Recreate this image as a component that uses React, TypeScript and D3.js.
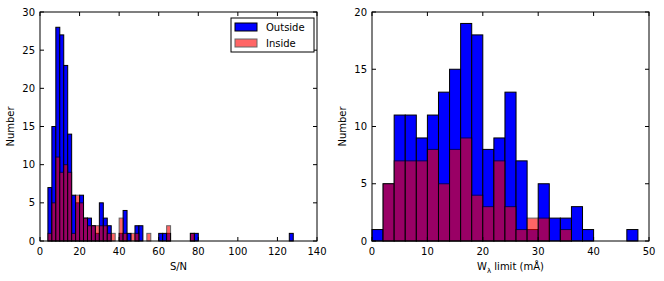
import React, { useEffect, useRef } from 'react';
import * as d3 from 'd3';

// S/N histogram: bins of width 2 starting at 4
const snBinStart = 4;
const snBinWidth = 2;
const snOutside = [
  7, 15, 28, 27, 23, 14, 6, 5, 6, 3, 3, 2, 1, 5, 3, 2, 0, 0, 1, 4, 1, 0, 2, 2, 0, 0, 0, 0, 1, 1, 1,
  0, 0, 0, 0, 0, 1, 1, 0, 0, 0, 0, 0, 0, 0, 0, 0, 0, 0, 0, 0, 0, 0, 0, 0, 0, 0, 0, 0, 0, 0, 1,
];
const snInside = [
  1, 5, 11, 9, 10, 9, 1, 6, 5, 3, 2, 2, 2, 2, 2, 1, 1, 0, 3, 1, 0, 1, 1, 0, 0, 1, 0, 0, 0, 0, 2,
  0, 0, 0, 0, 0, 1, 0, 0, 0, 0, 0, 0, 0, 0, 0, 0, 0, 0, 0, 0, 0, 0, 0, 0, 0, 0, 0, 0, 0, 0, 0,
];

// W limit histogram: bins of width 2 starting at 0
const wlBinStart = 0;
const wlBinWidth = 2;
const wlOutside = [1, 5, 11, 11, 9, 11, 13, 15, 19, 18, 8, 9, 13, 7, 1, 5, 2, 2, 3, 1, 0, 0, 0, 1];
const wlInside = [0, 5, 7, 7, 7, 8, 5, 8, 9, 4, 3, 7, 3, 1, 2, 2, 0, 1, 0, 0, 0, 0, 0, 0];

const snTicks = [0, 20, 40, 60, 80, 100, 120, 140];
const snYTicks = [0, 5, 10, 15, 20, 25, 30];
const wlTicks = [0, 10, 20, 30, 40, 50];
const wlYTicks = [0, 5, 10, 15, 20];

const legendItems = [
  { label: 'Outside', color: '#0000ff', opacity: 1 },
  { label: 'Inside', color: '#ff0000', opacity: 0.6 },
];

const FONT = 'DejaVu Sans, sans-serif';

const App = () => {
  const ref = useRef<SVGSVGElement>(null);

  useEffect(() => {
    const svg = d3.select(ref.current);
    svg.selectAll('*').remove();

    const top = 12;
    const bottom = 241;

    const drawPanel = (opts: {
      left: number;
      right: number;
      xMax: number;
      yMax: number;
      xTicks: number[];
      yTicks: number[];
      binStart: number;
      binWidth: number;
      outside: number[];
      inside: number[];
    }) => {
      const x = d3.scaleLinear().domain([0, opts.xMax]).range([opts.left, opts.right]);
      const y = d3.scaleLinear().domain([0, opts.yMax]).range([bottom, top]);
      const g = svg.append('g');

      const drawBars = (counts: number[], color: string, opacity: number) => {
        const data = counts
          .map((c, i) => ({ x0: opts.binStart + i * opts.binWidth, c }))
          .filter(d => d.c > 0);
        g.append('g')
          .attr('opacity', opacity)
          .selectAll('rect')
          .data(data)
          .enter()
          .append('rect')
          .attr('x', d => x(d.x0))
          .attr('y', d => y(d.c))
          .attr('width', d => x(d.x0 + opts.binWidth) - x(d.x0))
          .attr('height', d => y(0) - y(d.c))
          .attr('fill', color)
          .attr('stroke', '#000')
          .attr('stroke-width', 1);
      };

      drawBars(opts.outside, '#0000ff', 1);
      drawBars(opts.inside, '#ff0000', 0.6);

      // frame
      g.append('rect')
        .attr('x', opts.left)
        .attr('y', top)
        .attr('width', opts.right - opts.left)
        .attr('height', bottom - top)
        .attr('fill', 'none')
        .attr('stroke', '#000')
        .attr('stroke-width', 1);

      // ticks (inside, all four sides)
      opts.xTicks.forEach(t => {
        g.append('line').attr('x1', x(t)).attr('x2', x(t)).attr('y1', bottom).attr('y2', bottom - 4).attr('stroke', '#000');
        g.append('line').attr('x1', x(t)).attr('x2', x(t)).attr('y1', top).attr('y2', top + 4).attr('stroke', '#000');
        g.append('text')
          .attr('x', x(t))
          .attr('y', bottom + 14)
          .attr('text-anchor', 'middle')
          .style('font-family', FONT)
          .style('font-size', '10px')
          .text(t);
      });
      opts.yTicks.forEach(t => {
        g.append('line').attr('x1', opts.left).attr('x2', opts.left + 4).attr('y1', y(t)).attr('y2', y(t)).attr('stroke', '#000');
        g.append('line').attr('x1', opts.right).attr('x2', opts.right - 4).attr('y1', y(t)).attr('y2', y(t)).attr('stroke', '#000');
        g.append('text')
          .attr('x', opts.left - 5)
          .attr('y', y(t) + 3.5)
          .attr('text-anchor', 'end')
          .style('font-family', FONT)
          .style('font-size', '10px')
          .text(t);
      });

      // y label
      g.append('text')
        .attr('transform', `translate(${opts.left - 26},${(top + bottom) / 2}) rotate(-90)`)
        .attr('text-anchor', 'middle')
        .style('font-family', FONT)
        .style('font-size', '10px')
        .text('Number');

      return { x, y, g };
    };

    const left = drawPanel({
      left: 40, right: 317, xMax: 140, yMax: 30,
      xTicks: snTicks, yTicks: snYTicks,
      binStart: snBinStart, binWidth: snBinWidth,
      outside: snOutside, inside: snInside,
    });
    left.g.append('text')
      .attr('x', (40 + 317) / 2)
      .attr('y', 270)
      .attr('text-anchor', 'middle')
      .style('font-family', FONT)
      .style('font-size', '10px')
      .text('S/N');

    const right = drawPanel({
      left: 372, right: 649, xMax: 50, yMax: 20,
      xTicks: wlTicks, yTicks: wlYTicks,
      binStart: wlBinStart, binWidth: wlBinWidth,
      outside: wlOutside, inside: wlInside,
    });
    const xl = right.g.append('text')
      .attr('x', (372 + 649) / 2)
      .attr('y', 270)
      .attr('text-anchor', 'middle')
      .style('font-family', FONT)
      .style('font-size', '10px');
    xl.append('tspan').text('W');
    xl.append('tspan').attr('dy', 3).style('font-size', '7px').text('λ');
    xl.append('tspan').attr('dy', -3).text(' limit (mÅ)');

    // Legend
    const lg = svg.append('g').attr('transform', 'translate(231,18)');
    lg.append('rect')
      .attr('width', 83)
      .attr('height', 34)
      .attr('fill', '#fff')
      .attr('stroke', '#000');
    legendItems.forEach((d, i) => {
      lg.append('rect')
        .attr('x', 4)
        .attr('y', 5 + i * 16)
        .attr('width', 22)
        .attr('height', 8)
        .attr('fill', d.color)
        .attr('stroke', '#000')
        .attr('opacity', d.opacity);
      lg.append('text')
        .attr('x', 35)
        .attr('y', 13 + i * 16)
        .style('font-family', FONT)
        .style('font-size', '10px')
        .text(d.label);
    });
  }, []);

  return (
    <svg
      ref={ref}
      width={664}
      height={281}
      style={{ position: 'absolute', left: 0, top: 0, background: '#fff' }}
    />
  );
};

export default App;
